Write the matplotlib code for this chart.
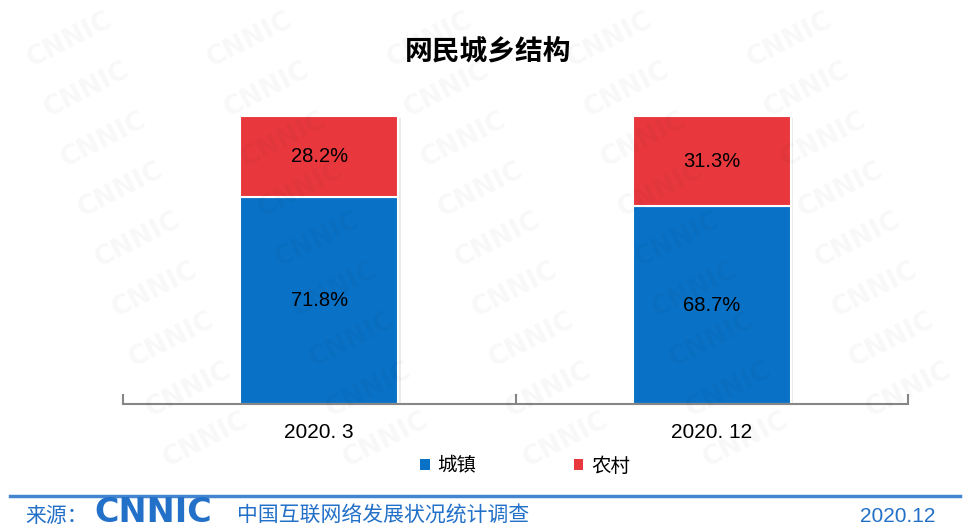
import matplotlib.pyplot as plt
import numpy as np
from matplotlib.patches import Patch
from matplotlib.lines import Line2D

# data
periods = ['2020. 3', '2020. 12']
urban = [71.8, 68.7]
rural = [28.2, 31.3]
series_names = ['城镇', '农村']

blue = '#0A72C6'
red = '#E8383D'
foot_blue = '#2370C8'

plt.rcParams['font.family'] = ['Noto Sans CJK SC', 'DejaVu Sans']

fig = plt.figure(figsize=(9.71, 5.28), dpi=100)
ax = fig.add_axes([123/971, 1-404/528, 785/971, 288/528])
ax.patch.set_visible(False)

x = np.arange(len(periods))
w = 0.403

# faint shadow behind bars
ax.bar(x + 0.006, np.array(urban) + np.array(rural), w, bottom=-0.6,
       color='#000000', alpha=0.08, zorder=1, linewidth=0)
ax.bar(x, urban, w, color=blue, edgecolor='white', linewidth=1.5, zorder=2)
ax.bar(x, rural, w, bottom=urban, color=red, edgecolor='white', linewidth=1.5, zorder=2)

for i in range(len(periods)):
    ax.text(x[i], urban[i] / 2, f'{urban[i]:.1f}%', ha='center', va='center',
            fontsize=14.5, family='Liberation Sans', zorder=3)
    ax.text(x[i], urban[i] + rural[i] / 2, f'{rural[i]:.1f}%', ha='center', va='center',
            fontsize=14.5, family='Liberation Sans', zorder=3)

ax.set_xlim(-0.5, 1.5)
ax.set_ylim(0, 100)
for s in ['top', 'right', 'left']:
    ax.spines[s].set_visible(False)
ax.spines['bottom'].set_color('#868686')
ax.spines['bottom'].set_linewidth(1.5)
ax.set_yticks([])
ax.set_xticks(x)
ax.set_xticklabels(periods, fontsize=15, family='Liberation Sans')
ax.tick_params(axis='x', which='major', length=0, pad=14)
ax.set_xticks([-0.5, 0.5, 1.5], minor=True)
ax.tick_params(axis='x', which='minor', direction='in', length=7, width=1.5, color='#868686')

fig.text(488/971, 1-52/528, '网民城乡结构', ha='center', va='center',
         fontsize=20, fontweight='bold')

handles = [Patch(facecolor=blue), Patch(facecolor=red)]
fig.legend(handles, series_names, loc='center', bbox_to_anchor=(525/971, 1-466/528),
           ncol=2, frameon=False, fontsize=14, handlelength=0.5, handleheight=0.5,
           handletextpad=0.4, columnspacing=5.0)

# footer
fig.add_artist(Line2D([10/971, 960/971], [1-496/528, 1-496/528], color=foot_blue,
                      linewidth=2.5, alpha=0.85))
fig.text(25/971, 1-516/528, '来源：', ha='left', va='center', fontsize=15, color=foot_blue)
fig.text(94/971, 1-513/528, 'CNNIC', ha='left', va='center', fontsize=24,
         fontweight='heavy', family='DejaVu Sans', color=foot_blue)
fig.text(237/971, 1-516/528, '中国互联网络发展状况统计调查', ha='left', va='center',
         fontsize=15, color=foot_blue)
fig.text(935/971, 1-516/528, '2020.12', ha='right', va='center', fontsize=15,
         family='Liberation Sans', color=foot_blue)

# watermark
for i in range(10):
    for j in range(-1, 6):
        px = 70 + 180 * j + 17 * i
        py = 40 + 50 * i
        if px < 60 or px > 911 or py > 450:
            continue
        fig.text(px/971, 1-py/528, 'CNNIC', ha='center', va='center', fontsize=19,
                 fontweight='bold', family='DejaVu Sans', rotation=27,
                 color='black', alpha=0.03, zorder=5)

fig.savefig('out.png', dpi=100)
